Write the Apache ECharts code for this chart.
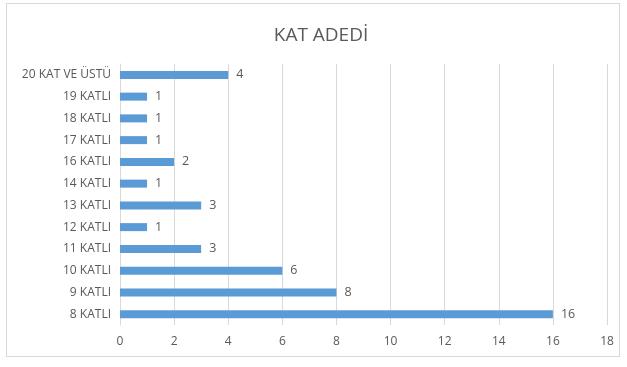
<!DOCTYPE html>
<html>
<head>
<meta charset="utf-8">
<script src="https://cdn.jsdelivr.net/npm/echarts@6/dist/echarts.min.js"></script>
<style>
  html, body { margin: 0; padding: 0; background: #fff; }
  #frame { position: absolute; left: 6px; top: 3px; width: 614px; height: 354px; border: 1px solid #d9d9d9; box-sizing: border-box; }
  #chart { width: 627px; height: 367px; position: absolute; left: 0; top: 0; }
</style>
</head>
<body>
<div id="frame"></div>
<div id="chart"></div>
<script>
// Floor-count categories, bottom to top
const categories = ['8 KATLI', '9 KATLI', '10 KATLI', '11 KATLI', '12 KATLI', '13 KATLI', '14 KATLI', '16 KATLI', '17 KATLI', '18 KATLI', '19 KATLI', '20 KAT VE ÜSTÜ'];
const counts = [16, 8, 6, 3, 1, 3, 1, 2, 1, 1, 1, 4];
const xTicks = { min: 0, max: 18, interval: 2 };

const font = '"Open Sans", sans-serif';
const textColor = '#595959';

const chart = echarts.init(document.getElementById('chart'), null, { renderer: 'canvas' });
chart.setOption({
  animation: false,
  title: {
    text: 'KAT ADEDİ',
    left: 316,
    top: 21,
    textAlign: 'center',
    textStyle: { fontFamily: font, fontSize: 19, fontWeight: 'normal', color: textColor }
  },
  grid: { left: 120, right: 20, top: 64, bottom: 42, containLabel: false },
  xAxis: {
    type: 'value',
    min: xTicks.min, max: xTicks.max, interval: xTicks.interval,
    axisLine: { show: false },
    axisTick: { show: false },
    splitLine: { show: true, lineStyle: { color: '#d9d9d9', width: 1 } },
    axisLabel: { color: textColor, fontFamily: font, fontSize: 12, margin: 11 }
  },
  yAxis: {
    type: 'category',
    data: categories,
    axisLine: { show: true, lineStyle: { color: '#d9d9d9' } },
    axisTick: { show: false },
    axisLabel: { color: textColor, fontFamily: font, fontSize: 12, margin: 9 }
  },
  series: [{
    type: 'bar',
    data: counts,
    barWidth: 8,
    itemStyle: { color: '#5b9bd5' },
    label: {
      show: true,
      position: 'right',
      distance: 8,
      color: textColor,
      fontFamily: font,
      fontSize: 12.5
    }
  }]
});
</script>
</body>
</html>
